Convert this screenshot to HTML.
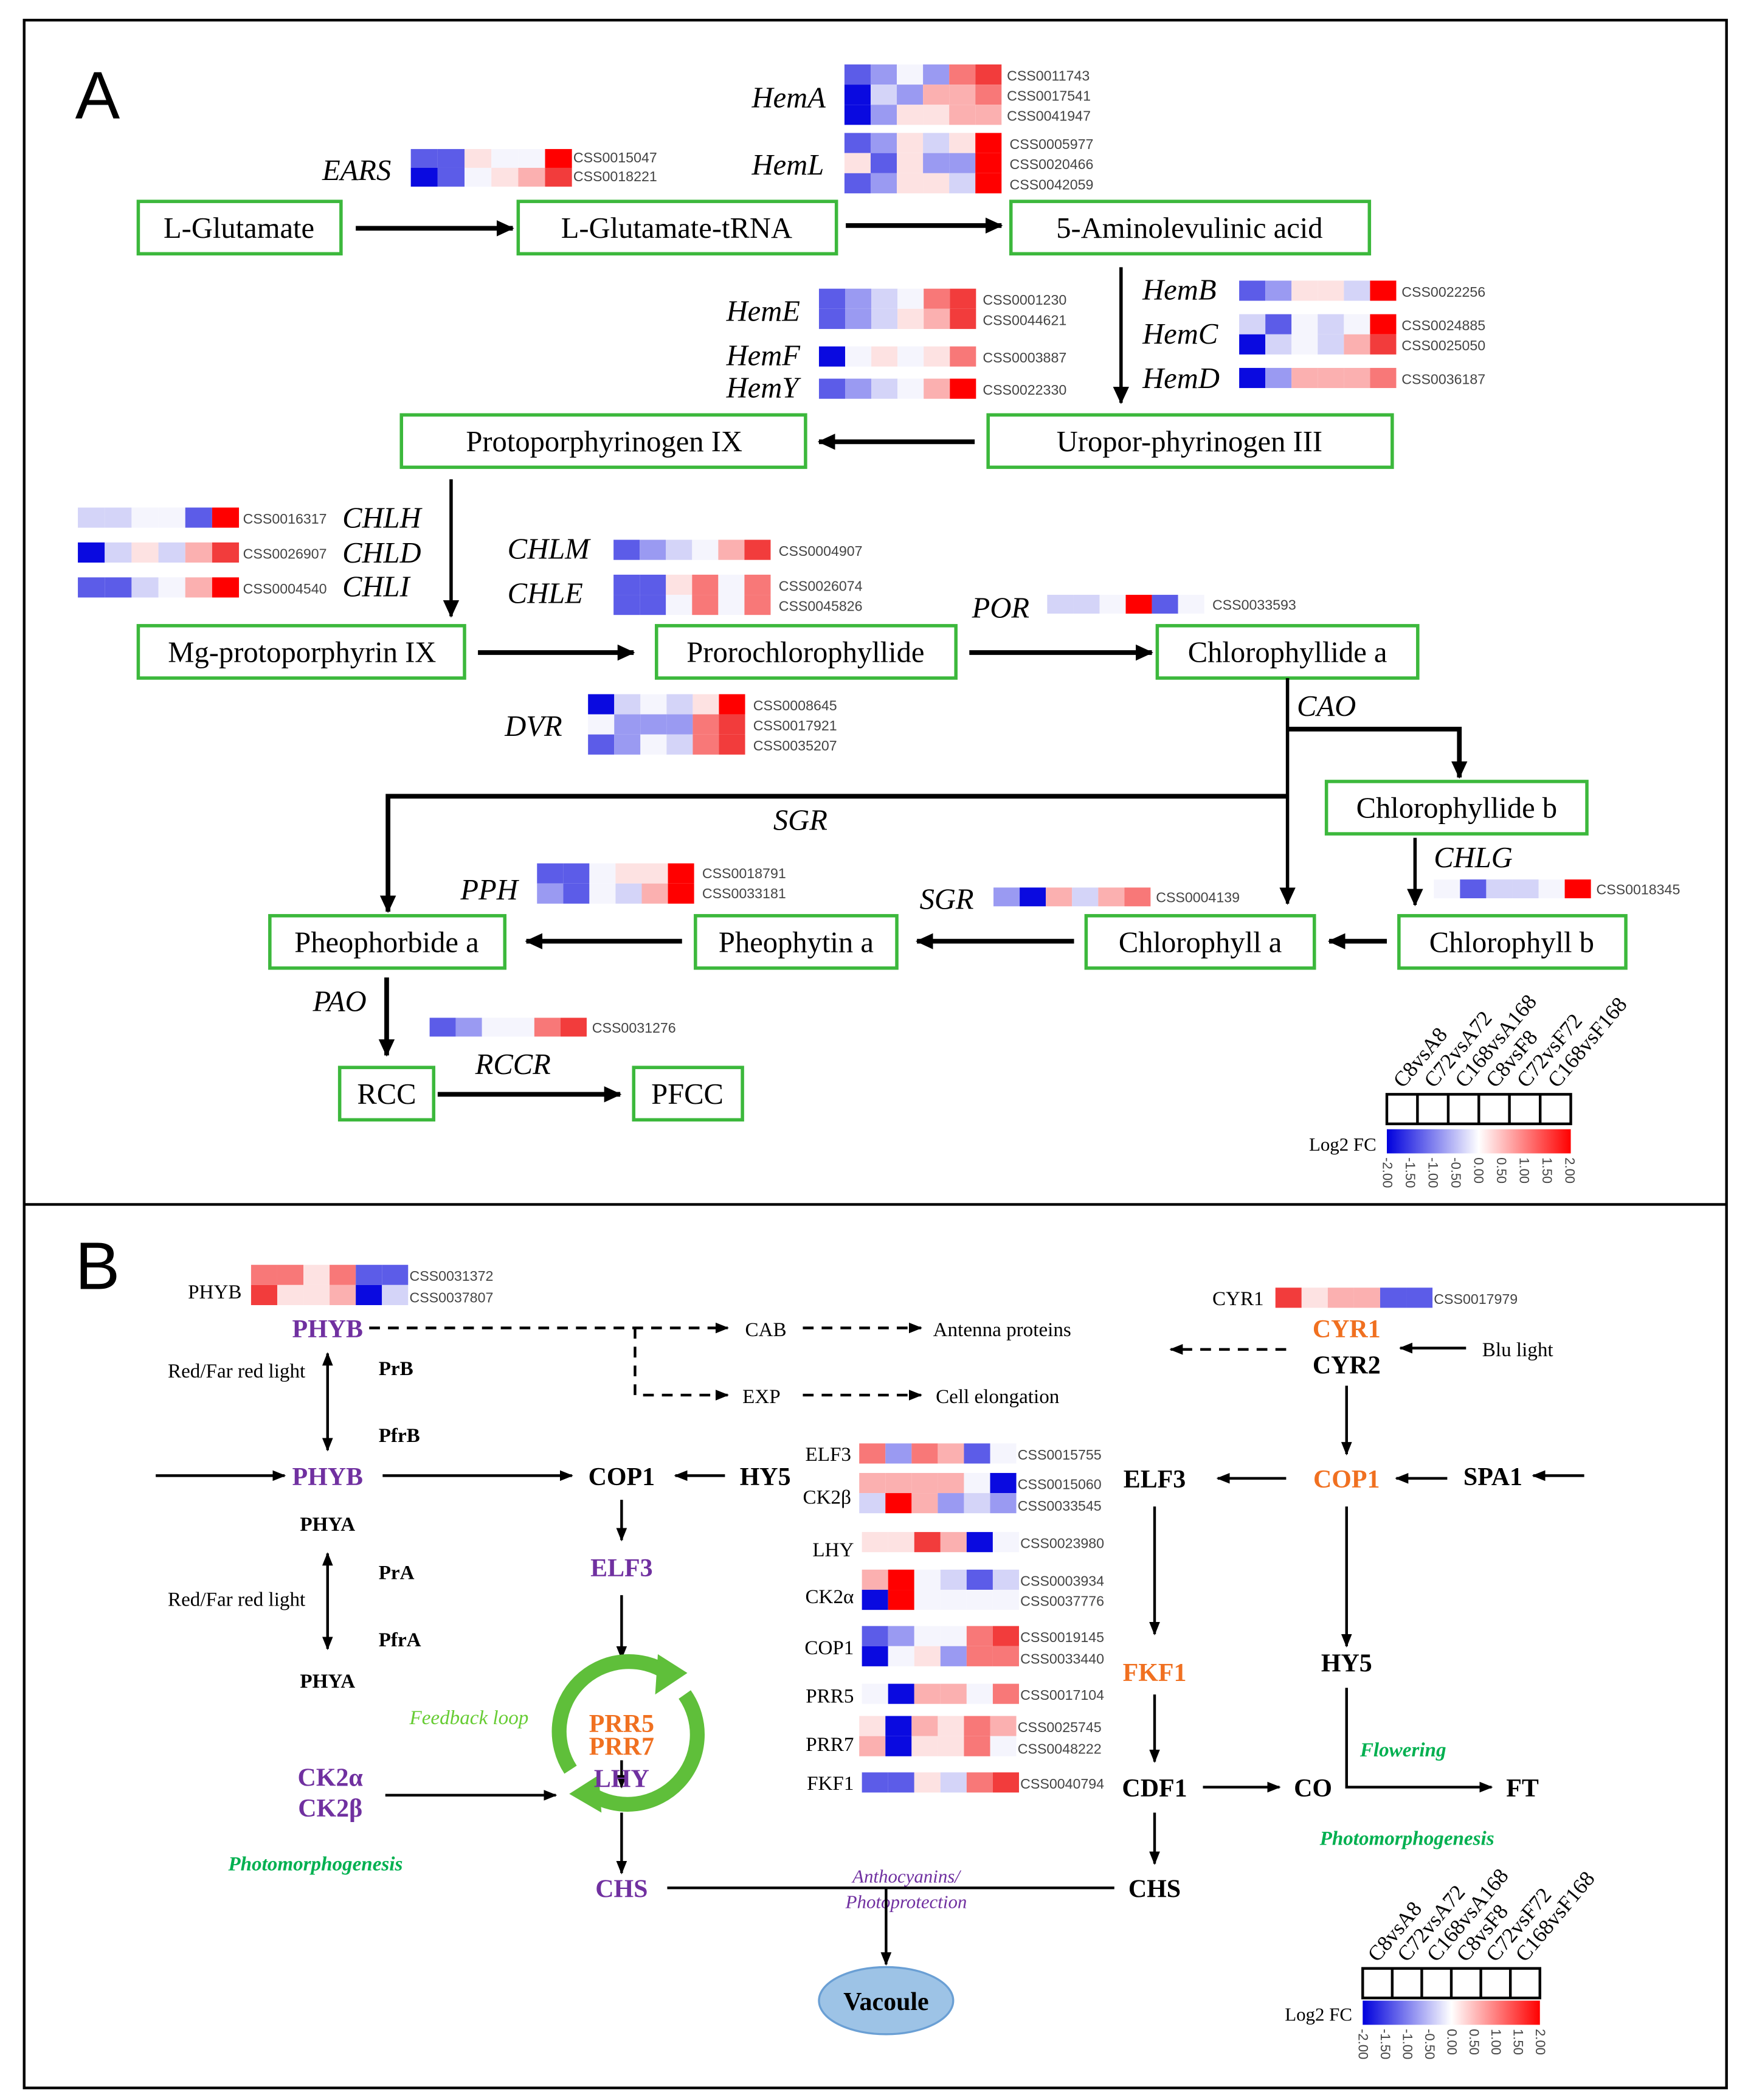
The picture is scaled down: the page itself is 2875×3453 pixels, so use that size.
<!DOCTYPE html>
<html><head><meta charset="utf-8"><style>
html,body{margin:0;padding:0;background:#fff}
svg{display:block}
.b3{fill:#0a0ae0}.b2{fill:#5c5ce8}.b1{fill:#9a9af2}.b0{fill:#d4d4f8}.w{fill:#f5f5fd}
.r0{fill:#fde2e2}.r1{fill:#fbb0b0}.r2{fill:#f87878}.r3{fill:#f23c3c}.r4{fill:#ff0000}
.n{font-family:"Liberation Serif",serif;font-size:22px;text-anchor:middle}
.g{font-family:"Liberation Serif",serif;font-size:22px;font-style:italic}
.id{font-family:"Liberation Sans",sans-serif;font-size:10.5px;fill:#444}
.bx{fill:#fff;stroke:#3cb83c;stroke-width:2.5}
.k{font-family:"Liberation Serif",serif;font-weight:bold;font-size:19px;text-anchor:middle}
.s{font-family:"Liberation Serif",serif;font-size:15px}
.p{fill:#7030a0}.o{fill:#f07020}
.gr{font-family:"Liberation Serif",serif;font-weight:bold;font-style:italic;font-size:15px;fill:#00b050}
.ln{stroke:#000;stroke-width:3.5;fill:none}
.tn{stroke:#000;stroke-width:2;fill:none}
.dl{stroke:#000;stroke-width:2;fill:none;stroke-dasharray:8,6}
</style></head><body>
<svg width="2875" height="3453" viewBox="0 0 1302 1564" preserveAspectRatio="none" xmlns="http://www.w3.org/2000/svg">
<defs>
<marker id="A" markerUnits="userSpaceOnUse" markerWidth="14" markerHeight="14" refX="12" refY="7" orient="auto"><path d="M0,1 L13,7 L0,13 z"/></marker>
<marker id="a" markerUnits="userSpaceOnUse" markerWidth="10" markerHeight="10" refX="9" refY="5" orient="auto"><path d="M0,1 L10,5 L0,9 z"/></marker>
<marker id="as" markerUnits="userSpaceOnUse" markerWidth="10" markerHeight="10" refX="1" refY="5" orient="auto"><path d="M10,1 L0,5 L10,9 z"/></marker>
<linearGradient id="lg"><stop offset="0" stop-color="#0000dd"/><stop offset="0.5" stop-color="#fff"/><stop offset="1" stop-color="#ff0000"/></linearGradient>
</defs>
<rect x="18" y="15" width="1268" height="1540" fill="none" stroke="#000" stroke-width="2"/>
<line x1="18" y1="897" x2="1286" y2="897" stroke="#000" stroke-width="2"/>
<text x="56" y="88" font-family="Liberation Sans,sans-serif" font-size="50">A</text>
<text x="56" y="960" font-family="Liberation Sans,sans-serif" font-size="50">B</text>

<!-- Panel A boxes -->
<rect class="bx" x="103" y="150" width="151" height="39"/><text class="n" x="178" y="177">L-Glutamate</text>
<rect class="bx" x="386" y="150" width="237" height="39"/><text class="n" x="504" y="177">L-Glutamate-tRNA</text>
<rect class="bx" x="753" y="150" width="267" height="39"/><text class="n" x="886" y="177">5-Aminolevulinic acid</text>
<rect class="bx" x="299" y="309" width="301" height="39"/><text class="n" x="450" y="336">Protoporphyrinogen IX</text>
<rect class="bx" x="736" y="309" width="301" height="39"/><text class="n" x="886" y="336">Uropor-phyrinogen III</text>
<rect class="bx" x="103" y="466" width="243" height="39"/><text class="n" x="225" y="493">Mg-protoporphyrin IX</text>
<rect class="bx" x="489" y="466" width="223" height="39"/><text class="n" x="600" y="493">Prorochlorophyllide</text>
<rect class="bx" x="862" y="466" width="194" height="39"/><text class="n" x="959" y="493">Chlorophyllide a</text>
<rect class="bx" x="988" y="582" width="194" height="39"/><text class="n" x="1085" y="609">Chlorophyllide b</text>
<rect class="bx" x="201" y="682" width="175" height="39"/><text class="n" x="288" y="709">Pheophorbide a</text>
<rect class="bx" x="518" y="682" width="150" height="39"/><text class="n" x="593" y="709">Pheophytin a</text>
<rect class="bx" x="809" y="682" width="170" height="39"/><text class="n" x="894" y="709">Chlorophyll a</text>
<rect class="bx" x="1042" y="682" width="169" height="39"/><text class="n" x="1126" y="709">Chlorophyll b</text>
<rect class="bx" x="253" y="795" width="70" height="39"/><text class="n" x="288" y="822">RCC</text>
<rect class="bx" x="472" y="795" width="81" height="39"/><text class="n" x="512" y="822">PFCC</text>

<!-- Panel A arrows -->
<g class="ln">
<line x1="265" y1="170" x2="382" y2="170" marker-end="url(#A)"/>
<line x1="630" y1="168" x2="746" y2="168" marker-end="url(#A)"/>
<line x1="835" y1="199" x2="835" y2="300" stroke-width="2.5" marker-end="url(#A)"/>
<line x1="726" y1="329" x2="610" y2="329" marker-end="url(#A)"/>
<line x1="336" y1="357" x2="336" y2="459" stroke-width="2.5" marker-end="url(#A)"/>
<line x1="356" y1="486" x2="472" y2="486" marker-end="url(#A)"/>
<line x1="722" y1="486" x2="858" y2="486" marker-end="url(#A)"/>
<line x1="959" y1="505" x2="959" y2="673" stroke-width="2.5" marker-end="url(#A)"/>
<polyline points="959,543 1087,543 1087,579" marker-end="url(#A)"/>
<polyline points="959,593 289,593 289,679" marker-end="url(#A)"/>
<line x1="1054" y1="624" x2="1054" y2="674" stroke-width="2.5" marker-end="url(#A)"/>
<line x1="1033" y1="701" x2="990" y2="701" marker-end="url(#A)"/>
<line x1="800" y1="701" x2="683" y2="701" marker-end="url(#A)"/>
<line x1="508" y1="701" x2="392" y2="701" marker-end="url(#A)"/>
<line x1="288" y1="728" x2="288" y2="786" marker-end="url(#A)"/>
<line x1="326" y1="815" x2="462" y2="815" marker-end="url(#A)"/>
</g>

<!-- Gene labels A -->
<text class="g" x="240" y="134">EARS</text>
<text class="g" x="560" y="80">HemA</text>
<text class="g" x="560" y="130">HemL</text>
<text class="g" x="541" y="239">HemE</text>
<text class="g" x="541" y="272">HemF</text>
<text class="g" x="541" y="296">HemY</text>
<text class="g" x="851" y="223">HemB</text>
<text class="g" x="851" y="256">HemC</text>
<text class="g" x="851" y="289">HemD</text>
<text class="g" x="255" y="393">CHLH</text>
<text class="g" x="255" y="419">CHLD</text>
<text class="g" x="255" y="444">CHLI</text>
<text class="g" x="378" y="416">CHLM</text>
<text class="g" x="378" y="449">CHLE</text>
<text class="g" x="724" y="460">POR</text>
<text class="g" x="376" y="548">DVR</text>
<text class="g" x="966" y="533">CAO</text>
<text class="g" x="576" y="618">SGR</text>
<text class="g" x="1068" y="646">CHLG</text>
<text class="g" x="343" y="670">PPH</text>
<text class="g" x="685" y="677">SGR</text>
<text class="g" x="233" y="753">PAO</text>
<text class="g" x="354" y="800">RCCR</text>

<!-- Heatmaps A -->
<g transform="translate(306,111)"><rect class="b2" x="0" width="20" height="14"/><rect class="b2" x="20" width="20" height="14"/><rect class="r0" x="40" width="20" height="14"/><rect class="w" x="60" width="20" height="14"/><rect class="w" x="80" width="20" height="14"/><rect class="r4" x="100" width="20" height="14"/>
<rect class="b3" x="0" y="14" width="20" height="14"/><rect class="b2" x="20" y="14" width="20" height="14"/><rect class="w" x="40" y="14" width="20" height="14"/><rect class="r0" x="60" y="14" width="20" height="14"/><rect class="r1" x="80" y="14" width="20" height="14"/><rect class="r3" x="100" y="14" width="20" height="14"/></g>
<text class="id" x="427" y="121">CSS0015047</text><text class="id" x="427" y="135">CSS0018221</text>

<g transform="translate(629,48)"><rect class="b2" x="0" width="19.5" height="15"/><rect class="b1" x="19.5" width="19.5" height="15"/><rect class="w" x="39" width="19.5" height="15"/><rect class="b1" x="58.5" width="19.5" height="15"/><rect class="r2" x="78" width="19.5" height="15"/><rect class="r3" x="97.5" width="19.5" height="15"/>
<rect class="b3" x="0" y="15" width="19.5" height="15"/><rect class="b0" x="19.5" y="15" width="19.5" height="15"/><rect class="b1" x="39" y="15" width="19.5" height="15"/><rect class="r1" x="58.5" y="15" width="19.5" height="15"/><rect class="r1" x="78" y="15" width="19.5" height="15"/><rect class="r2" x="97.5" y="15" width="19.5" height="15"/>
<rect class="b3" x="0" y="30" width="19.5" height="15"/><rect class="b1" x="19.5" y="30" width="19.5" height="15"/><rect class="r0" x="39" y="30" width="19.5" height="15"/><rect class="r0" x="58.5" y="30" width="19.5" height="15"/><rect class="r1" x="78" y="30" width="19.5" height="15"/><rect class="r1" x="97.5" y="30" width="19.5" height="15"/></g>
<text class="id" x="750" y="60">CSS0011743</text><text class="id" x="750" y="75">CSS0017541</text><text class="id" x="750" y="90">CSS0041947</text>

<g transform="translate(629,99)"><rect class="b2" x="0" width="19.5" height="15"/><rect class="b1" x="19.5" width="19.5" height="15"/><rect class="r0" x="39" width="19.5" height="15"/><rect class="b0" x="58.5" width="19.5" height="15"/><rect class="r0" x="78" width="19.5" height="15"/><rect class="r4" x="97.5" width="19.5" height="15"/>
<rect class="r0" x="0" y="15" width="19.5" height="15"/><rect class="b2" x="19.5" y="15" width="19.5" height="15"/><rect class="r0" x="39" y="15" width="19.5" height="15"/><rect class="b1" x="58.5" y="15" width="19.5" height="15"/><rect class="b1" x="78" y="15" width="19.5" height="15"/><rect class="r4" x="97.5" y="15" width="19.5" height="15"/>
<rect class="b2" x="0" y="30" width="19.5" height="15"/><rect class="b1" x="19.5" y="30" width="19.5" height="15"/><rect class="r0" x="39" y="30" width="19.5" height="15"/><rect class="r0" x="58.5" y="30" width="19.5" height="15"/><rect class="b0" x="78" y="30" width="19.5" height="15"/><rect class="r4" x="97.5" y="30" width="19.5" height="15"/></g>
<text class="id" x="752" y="111">CSS0005977</text><text class="id" x="752" y="126">CSS0020466</text><text class="id" x="752" y="141">CSS0042059</text>

<g transform="translate(610,215)"><rect class="b2" x="0" width="19.5" height="15"/><rect class="b1" x="19.5" width="19.5" height="15"/><rect class="b0" x="39" width="19.5" height="15"/><rect class="w" x="58.5" width="19.5" height="15"/><rect class="r2" x="78" width="19.5" height="15"/><rect class="r3" x="97.5" width="19.5" height="15"/>
<rect class="b2" x="0" y="15" width="19.5" height="15"/><rect class="b1" x="19.5" y="15" width="19.5" height="15"/><rect class="b0" x="39" y="15" width="19.5" height="15"/><rect class="r0" x="58.5" y="15" width="19.5" height="15"/><rect class="r1" x="78" y="15" width="19.5" height="15"/><rect class="r3" x="97.5" y="15" width="19.5" height="15"/></g>
<text class="id" x="732" y="227">CSS0001230</text><text class="id" x="732" y="242">CSS0044621</text>
<g transform="translate(610,258)"><rect class="b3" x="0" width="19.5" height="15"/><rect class="w" x="19.5" width="19.5" height="15"/><rect class="r0" x="39" width="19.5" height="15"/><rect class="w" x="58.5" width="19.5" height="15"/><rect class="r0" x="78" width="19.5" height="15"/><rect class="r2" x="97.5" width="19.5" height="15"/></g>
<text class="id" x="732" y="270">CSS0003887</text>
<g transform="translate(610,282)"><rect class="b2" x="0" width="19.5" height="15"/><rect class="b1" x="19.5" width="19.5" height="15"/><rect class="b0" x="39" width="19.5" height="15"/><rect class="w" x="58.5" width="19.5" height="15"/><rect class="r1" x="78" width="19.5" height="15"/><rect class="r4" x="97.5" width="19.5" height="15"/></g>
<text class="id" x="732" y="294">CSS0022330</text>

<g transform="translate(923,209)"><rect class="b2" x="0" width="19.5" height="15"/><rect class="b1" x="19.5" width="19.5" height="15"/><rect class="r0" x="39" width="19.5" height="15"/><rect class="r0" x="58.5" width="19.5" height="15"/><rect class="b0" x="78" width="19.5" height="15"/><rect class="r4" x="97.5" width="19.5" height="15"/></g>
<text class="id" x="1044" y="221">CSS0022256</text>
<g transform="translate(923,234)"><rect class="b0" x="0" width="19.5" height="15"/><rect class="b2" x="19.5" width="19.5" height="15"/><rect class="w" x="39" width="19.5" height="15"/><rect class="b0" x="58.5" width="19.5" height="15"/><rect class="w" x="78" width="19.5" height="15"/><rect class="r4" x="97.5" width="19.5" height="15"/>
<rect class="b3" x="0" y="15" width="19.5" height="15"/><rect class="b0" x="19.5" y="15" width="19.5" height="15"/><rect class="w" x="39" y="15" width="19.5" height="15"/><rect class="b0" x="58.5" y="15" width="19.5" height="15"/><rect class="r1" x="78" y="15" width="19.5" height="15"/><rect class="r3" x="97.5" y="15" width="19.5" height="15"/></g>
<text class="id" x="1044" y="246">CSS0024885</text><text class="id" x="1044" y="261">CSS0025050</text>
<g transform="translate(923,274)"><rect class="b3" x="0" width="19.5" height="15"/><rect class="b1" x="19.5" width="19.5" height="15"/><rect class="r1" x="39" width="19.5" height="15"/><rect class="r1" x="58.5" width="19.5" height="15"/><rect class="r1" x="78" width="19.5" height="15"/><rect class="r2" x="97.5" width="19.5" height="15"/></g>
<text class="id" x="1044" y="286">CSS0036187</text>

<g transform="translate(58,378)"><rect class="b0" x="0" width="20" height="15"/><rect class="b0" x="20" width="20" height="15"/><rect class="w" x="40" width="20" height="15"/><rect class="w" x="60" width="20" height="15"/><rect class="b2" x="80" width="20" height="15"/><rect class="r4" x="100" width="20" height="15"/></g>
<text class="id" x="181" y="390">CSS0016317</text>
<g transform="translate(58,404)"><rect class="b3" x="0" width="20" height="15"/><rect class="b0" x="20" width="20" height="15"/><rect class="r0" x="40" width="20" height="15"/><rect class="b0" x="60" width="20" height="15"/><rect class="r1" x="80" width="20" height="15"/><rect class="r3" x="100" width="20" height="15"/></g>
<text class="id" x="181" y="416">CSS0026907</text>
<g transform="translate(58,430)"><rect class="b2" x="0" width="20" height="15"/><rect class="b2" x="20" width="20" height="15"/><rect class="b0" x="40" width="20" height="15"/><rect class="w" x="60" width="20" height="15"/><rect class="r1" x="80" width="20" height="15"/><rect class="r4" x="100" width="20" height="15"/></g>
<text class="id" x="181" y="442">CSS0004540</text>

<g transform="translate(457,402)"><rect class="b2" x="0" width="19.5" height="15"/><rect class="b1" x="19.5" width="19.5" height="15"/><rect class="b0" x="39" width="19.5" height="15"/><rect class="w" x="58.5" width="19.5" height="15"/><rect class="r1" x="78" width="19.5" height="15"/><rect class="r3" x="97.5" width="19.5" height="15"/></g>
<text class="id" x="580" y="414">CSS0004907</text>
<g transform="translate(457,428)"><rect class="b2" x="0" width="19.5" height="15"/><rect class="b2" x="19.5" width="19.5" height="15"/><rect class="r0" x="39" width="19.5" height="15"/><rect class="r2" x="58.5" width="19.5" height="15"/><rect class="w" x="78" width="19.5" height="15"/><rect class="r2" x="97.5" width="19.5" height="15"/>
<rect class="b2" x="0" y="15" width="19.5" height="15"/><rect class="b2" x="19.5" y="15" width="19.5" height="15"/><rect class="w" x="39" y="15" width="19.5" height="15"/><rect class="r2" x="58.5" y="15" width="19.5" height="15"/><rect class="w" x="78" y="15" width="19.5" height="15"/><rect class="r2" x="97.5" y="15" width="19.5" height="15"/></g>
<text class="id" x="580" y="440">CSS0026074</text><text class="id" x="580" y="455">CSS0045826</text>
<g transform="translate(780,443)"><rect class="b0" x="0" width="19.5" height="14"/><rect class="b0" x="19.5" width="19.5" height="14"/><rect class="w" x="39" width="19.5" height="14"/><rect class="r4" x="58.5" width="19.5" height="14"/><rect class="b2" x="78" width="19.5" height="14"/><rect class="w" x="97.5" width="19.5" height="14"/></g>
<text class="id" x="903" y="454">CSS0033593</text>

<g transform="translate(438,517)"><rect class="b3" x="0" width="19.5" height="15"/><rect class="b0" x="19.5" width="19.5" height="15"/><rect class="w" x="39" width="19.5" height="15"/><rect class="b0" x="58.5" width="19.5" height="15"/><rect class="r0" x="78" width="19.5" height="15"/><rect class="r4" x="97.5" width="19.5" height="15"/>
<rect class="w" x="0" y="15" width="19.5" height="15"/><rect class="b1" x="19.5" y="15" width="19.5" height="15"/><rect class="b1" x="39" y="15" width="19.5" height="15"/><rect class="b1" x="58.5" y="15" width="19.5" height="15"/><rect class="r2" x="78" y="15" width="19.5" height="15"/><rect class="r3" x="97.5" y="15" width="19.5" height="15"/>
<rect class="b2" x="0" y="30" width="19.5" height="15"/><rect class="b1" x="19.5" y="30" width="19.5" height="15"/><rect class="w" x="39" y="30" width="19.5" height="15"/><rect class="b0" x="58.5" y="30" width="19.5" height="15"/><rect class="r2" x="78" y="30" width="19.5" height="15"/><rect class="r3" x="97.5" y="30" width="19.5" height="15"/></g>
<text class="id" x="561" y="529">CSS0008645</text><text class="id" x="561" y="544">CSS0017921</text><text class="id" x="561" y="559">CSS0035207</text>

<g transform="translate(400,643)"><rect class="b2" x="0" width="19.5" height="15"/><rect class="b2" x="19.5" width="19.5" height="15"/><rect class="w" x="39" width="19.5" height="15"/><rect class="r0" x="58.5" width="19.5" height="15"/><rect class="r0" x="78" width="19.5" height="15"/><rect class="r4" x="97.5" width="19.5" height="15"/>
<rect class="b1" x="0" y="15" width="19.5" height="15"/><rect class="b2" x="19.5" y="15" width="19.5" height="15"/><rect class="w" x="39" y="15" width="19.5" height="15"/><rect class="b0" x="58.5" y="15" width="19.5" height="15"/><rect class="r1" x="78" y="15" width="19.5" height="15"/><rect class="r4" x="97.5" y="15" width="19.5" height="15"/></g>
<text class="id" x="523" y="654">CSS0018791</text><text class="id" x="523" y="669">CSS0033181</text>
<g transform="translate(740,661)"><rect class="b1" x="0" width="19.5" height="14"/><rect class="b3" x="19.5" width="19.5" height="14"/><rect class="r1" x="39" width="19.5" height="14"/><rect class="b0" x="58.5" width="19.5" height="14"/><rect class="r1" x="78" width="19.5" height="14"/><rect class="r2" x="97.5" width="19.5" height="14"/></g>
<text class="id" x="861" y="672">CSS0004139</text>
<g transform="translate(1068,655)"><rect class="w" x="0" width="19.5" height="14"/><rect class="b2" x="19.5" width="19.5" height="14"/><rect class="b0" x="39" width="19.5" height="14"/><rect class="b0" x="58.5" width="19.5" height="14"/><rect class="w" x="78" width="19.5" height="14"/><rect class="r4" x="97.5" width="19.5" height="14"/></g>
<text class="id" x="1189" y="666">CSS0018345</text>
<g transform="translate(320,758)"><rect class="b2" x="0" width="19.5" height="14"/><rect class="b1" x="19.5" width="19.5" height="14"/><rect class="w" x="39" width="19.5" height="14"/><rect class="w" x="58.5" width="19.5" height="14"/><rect class="r2" x="78" width="19.5" height="14"/><rect class="r3" x="97.5" width="19.5" height="14"/></g>
<text class="id" x="441" y="769">CSS0031276</text>

<!-- Legend A -->
<g transform="translate(1033,815)">
<g font-family="Liberation Serif,serif" font-size="16">
<text transform="translate(12,-4) rotate(-50)">C8vsA8</text>
<text transform="translate(35,-4) rotate(-50)">C72vsA72</text>
<text transform="translate(58,-4) rotate(-50)">C168vsA168</text>
<text transform="translate(81,-4) rotate(-50)">C8vsF8</text>
<text transform="translate(104,-4) rotate(-50)">C72vsF72</text>
<text transform="translate(127,-4) rotate(-50)">C168vsF168</text>
</g>
<g fill="none" stroke="#000" stroke-width="2"><rect x="0" y="0" width="137" height="22"/><line x1="22.8" y1="0" x2="22.8" y2="22"/><line x1="45.7" y1="0" x2="45.7" y2="22"/><line x1="68.5" y1="0" x2="68.5" y2="22"/><line x1="91.3" y1="0" x2="91.3" y2="22"/><line x1="114.2" y1="0" x2="114.2" y2="22"/></g>
<rect x="0" y="26" width="137" height="18" fill="url(#lg)"/>
<text x="-58" y="42" font-family="Liberation Serif,serif" font-size="14">Log2 FC</text>
<g font-family="Liberation Sans,sans-serif" font-size="10" fill="#444">
<text transform="translate(-3,47) rotate(90)">-2.00</text><text transform="translate(14,47) rotate(90)">-1.50</text><text transform="translate(31,47) rotate(90)">-1.00</text><text transform="translate(48,47) rotate(90)">-0.50</text><text transform="translate(65,47) rotate(90)">0.00</text><text transform="translate(82,47) rotate(90)">0.50</text><text transform="translate(99,47) rotate(90)">1.00</text><text transform="translate(116,47) rotate(90)">1.50</text><text transform="translate(133,47) rotate(90)">2.00</text></g>
</g>

<!-- Panel B -->
<text class="s" x="140" y="967">PHYB</text>
<g transform="translate(187,942)"><rect class="r2" x="0" width="19.5" height="15"/><rect class="r2" x="19.5" width="19.5" height="15"/><rect class="r0" x="39" width="19.5" height="15"/><rect class="r2" x="58.5" width="19.5" height="15"/><rect class="b2" x="78" width="19.5" height="15"/><rect class="b2" x="97.5" width="19.5" height="15"/>
<rect class="r3" x="0" y="15" width="19.5" height="15"/><rect class="r0" x="19.5" y="15" width="19.5" height="15"/><rect class="r0" x="39" y="15" width="19.5" height="15"/><rect class="r1" x="58.5" y="15" width="19.5" height="15"/><rect class="b3" x="78" y="15" width="19.5" height="15"/><rect class="b0" x="97.5" y="15" width="19.5" height="15"/></g>
<text class="id" x="305" y="954">CSS0031372</text><text class="id" x="305" y="970">CSS0037807</text>

<text class="k p" x="244" y="996">PHYB</text>
<line class="dl" x1="275" y1="989" x2="542" y2="989" marker-end="url(#a)"/>
<polyline class="dl" points="473,989 473,1039 542,1039" marker-end="url(#a)"/>
<text class="s" x="555" y="995">CAB</text>
<line class="dl" x1="598" y1="989" x2="686" y2="989" marker-end="url(#a)"/>
<text class="s" x="695" y="995">Antenna proteins</text>
<text class="s" x="553" y="1045">EXP</text>
<line class="dl" x1="598" y1="1039" x2="686" y2="1039" marker-end="url(#a)"/>
<text class="s" x="697" y="1045">Cell elongation</text>

<text class="s" x="125" y="1026">Red/Far red light</text>
<line class="tn" x1="244" y1="1008" x2="244" y2="1080" marker-start="url(#as)" marker-end="url(#a)"/>
<text class="s" x="282" y="1024" font-weight="bold">PrB</text>
<text class="s" x="282" y="1074" font-weight="bold">PfrB</text>
<line class="tn" x1="116" y1="1099" x2="212" y2="1099" marker-end="url(#a)"/>
<text class="k p" x="244" y="1106">PHYB</text>
<line class="tn" x1="285" y1="1099" x2="426" y2="1099" marker-end="url(#a)"/>
<text class="k" x="463" y="1106">COP1</text>
<line class="tn" x1="540" y1="1099" x2="503" y2="1099" marker-end="url(#a)"/>
<text class="k" x="570" y="1106">HY5</text>
<text class="s" x="244" y="1140" font-weight="bold" text-anchor="middle">PHYA</text>
<line class="tn" x1="244" y1="1157" x2="244" y2="1228" marker-start="url(#as)" marker-end="url(#a)"/>
<text class="s" x="282" y="1176" font-weight="bold">PrA</text>
<text class="s" x="282" y="1226" font-weight="bold">PfrA</text>
<text class="s" x="125" y="1196">Red/Far red light</text>
<text class="s" x="244" y="1257" font-weight="bold" text-anchor="middle">PHYA</text>
<line class="tn" x1="463" y1="1117" x2="463" y2="1147" marker-end="url(#a)"/>
<text class="k p" x="463" y="1174">ELF3</text>
<line class="tn" x1="463" y1="1188" x2="463" y2="1235" marker-end="url(#a)"/>
<!-- feedback loop -->
<path d="M425,1318 A52,52 0 0 1 497,1246" fill="none" stroke="#5fbf3a" stroke-width="11"/>
<path d="M490,1232 L512,1246 L488,1262 z" fill="#5fbf3a"/>
<path d="M510,1262 A52,52 0 0 1 440,1336" fill="none" stroke="#5fbf3a" stroke-width="11"/>
<path d="M446,1322 L424,1336 L448,1350 z" fill="#5fbf3a"/>
<text class="k o" x="463" y="1290">PRR5</text>
<text class="k o" x="463" y="1307">PRR7</text>
<line class="tn" x1="463" y1="1311" x2="463" y2="1331" marker-end="url(#a)"/>
<text class="k p" x="463" y="1331">LHY</text>
<text x="305" y="1284" font-family="Liberation Serif,serif" font-style="italic" font-size="15" fill="#66cc33">Feedback loop</text>
<text class="k p" x="246" y="1330">CK2α</text>
<text class="k p" x="246" y="1353">CK2β</text>
<line class="tn" x1="287" y1="1337" x2="414" y2="1337" marker-end="url(#a)"/>
<line class="tn" x1="463" y1="1350" x2="463" y2="1395" marker-end="url(#a)"/>
<text class="k p" x="463" y="1413">CHS</text>
<text class="gr" x="170" y="1393">Photomorphogenesis</text>
<line class="tn" x1="497" y1="1406" x2="830" y2="1406"/>
<text x="675" y="1402" font-family="Liberation Serif,serif" font-style="italic" font-size="14" fill="#7030a0" text-anchor="middle">Anthocyanins/</text>
<text x="675" y="1421" font-family="Liberation Serif,serif" font-style="italic" font-size="14" fill="#7030a0" text-anchor="middle">Photoprotection</text>
<line class="tn" x1="660" y1="1406" x2="660" y2="1463" marker-end="url(#a)"/>
<ellipse cx="660" cy="1490" rx="50" ry="25" fill="#9dc3e6" stroke="#6a9fd4" stroke-width="1.5"/>
<text class="k" x="660" y="1497">Vacoule</text>
<text class="k" x="860" y="1413">CHS</text>

<!-- Middle heatmaps B -->
<g class="s" text-anchor="end" font-size="14">
<text x="634" y="1088">ELF3</text><text x="634" y="1120">CK2β</text><text x="636" y="1159">LHY</text><text x="636" y="1194">CK2α</text><text x="636" y="1232">COP1</text><text x="636" y="1268">PRR5</text><text x="636" y="1304">PRR7</text><text x="636" y="1333">FKF1</text></g>
<g transform="translate(640,1075)"><rect class="r2" x="0" width="19.5" height="15"/><rect class="b1" x="19.5" width="19.5" height="15"/><rect class="r2" x="39" width="19.5" height="15"/><rect class="r1" x="58.5" width="19.5" height="15"/><rect class="b2" x="78" width="19.5" height="15"/><rect class="w" x="97.5" width="19.5" height="15"/></g>
<g transform="translate(640,1097)"><rect class="r1" x="0" width="19.5" height="15"/><rect class="r1" x="19.5" width="19.5" height="15"/><rect class="r1" x="39" width="19.5" height="15"/><rect class="r1" x="58.5" width="19.5" height="15"/><rect class="w" x="78" width="19.5" height="15"/><rect class="b3" x="97.5" width="19.5" height="15"/>
<rect class="b0" x="0" y="15" width="19.5" height="15"/><rect class="r4" x="19.5" y="15" width="19.5" height="15"/><rect class="r1" x="39" y="15" width="19.5" height="15"/><rect class="b1" x="58.5" y="15" width="19.5" height="15"/><rect class="b0" x="78" y="15" width="19.5" height="15"/><rect class="b1" x="97.5" y="15" width="19.5" height="15"/></g>
<g transform="translate(642,1141)"><rect class="r0" x="0" width="19.5" height="15"/><rect class="r0" x="19.5" width="19.5" height="15"/><rect class="r3" x="39" width="19.5" height="15"/><rect class="r1" x="58.5" width="19.5" height="15"/><rect class="b3" x="78" width="19.5" height="15"/><rect class="w" x="97.5" width="19.5" height="15"/></g>
<g transform="translate(642,1169)"><rect class="r1" x="0" width="19.5" height="15"/><rect class="r4" x="19.5" width="19.5" height="15"/><rect class="w" x="39" width="19.5" height="15"/><rect class="b0" x="58.5" width="19.5" height="15"/><rect class="b2" x="78" width="19.5" height="15"/><rect class="b0" x="97.5" width="19.5" height="15"/>
<rect class="b3" x="0" y="15" width="19.5" height="15"/><rect class="r4" x="19.5" y="15" width="19.5" height="15"/><rect class="w" x="39" y="15" width="19.5" height="15"/><rect class="w" x="58.5" y="15" width="19.5" height="15"/><rect class="w" x="78" y="15" width="19.5" height="15"/><rect class="w" x="97.5" y="15" width="19.5" height="15"/></g>
<g transform="translate(642,1211)"><rect class="b2" x="0" width="19.5" height="15"/><rect class="b1" x="19.5" width="19.5" height="15"/><rect class="w" x="39" width="19.5" height="15"/><rect class="w" x="58.5" width="19.5" height="15"/><rect class="r2" x="78" width="19.5" height="15"/><rect class="r3" x="97.5" width="19.5" height="15"/>
<rect class="b3" x="0" y="15" width="19.5" height="15"/><rect class="w" x="19.5" y="15" width="19.5" height="15"/><rect class="r0" x="39" y="15" width="19.5" height="15"/><rect class="b1" x="58.5" y="15" width="19.5" height="15"/><rect class="r2" x="78" y="15" width="19.5" height="15"/><rect class="r2" x="97.5" y="15" width="19.5" height="15"/></g>
<g transform="translate(642,1254)"><rect class="w" x="0" width="19.5" height="15"/><rect class="b3" x="19.5" width="19.5" height="15"/><rect class="r1" x="39" width="19.5" height="15"/><rect class="r1" x="58.5" width="19.5" height="15"/><rect class="w" x="78" width="19.5" height="15"/><rect class="r2" x="97.5" width="19.5" height="15"/></g>
<g transform="translate(640,1278)"><rect class="r0" x="0" width="19.5" height="15"/><rect class="b3" x="19.5" width="19.5" height="15"/><rect class="r1" x="39" width="19.5" height="15"/><rect class="r0" x="58.5" width="19.5" height="15"/><rect class="r2" x="78" width="19.5" height="15"/><rect class="r1" x="97.5" width="19.5" height="15"/>
<rect class="r1" x="0" y="15" width="19.5" height="15"/><rect class="b3" x="19.5" y="15" width="19.5" height="15"/><rect class="r0" x="39" y="15" width="19.5" height="15"/><rect class="r0" x="58.5" y="15" width="19.5" height="15"/><rect class="r2" x="78" y="15" width="19.5" height="15"/><rect class="w" x="97.5" y="15" width="19.5" height="15"/></g>
<g transform="translate(642,1320)"><rect class="b2" x="0" width="19.5" height="15"/><rect class="b2" x="19.5" width="19.5" height="15"/><rect class="r0" x="39" width="19.5" height="15"/><rect class="b0" x="58.5" width="19.5" height="15"/><rect class="r2" x="78" width="19.5" height="15"/><rect class="r3" x="97.5" width="19.5" height="15"/></g>
<g class="id">
<text x="758" y="1087">CSS0015755</text><text x="758" y="1109">CSS0015060</text><text x="758" y="1125">CSS0033545</text><text x="760" y="1153">CSS0023980</text><text x="760" y="1181">CSS0003934</text><text x="760" y="1196">CSS0037776</text><text x="760" y="1223">CSS0019145</text><text x="760" y="1239">CSS0033440</text><text x="760" y="1266">CSS0017104</text><text x="758" y="1290">CSS0025745</text><text x="758" y="1306">CSS0048222</text><text x="760" y="1332">CSS0040794</text></g>

<!-- Right side B -->
<text class="s" x="903" y="972" font-size="14">CYR1</text>
<g transform="translate(950,959)"><rect class="r3" x="0" width="19.5" height="15"/><rect class="r0" x="19.5" width="19.5" height="15"/><rect class="r1" x="39" width="19.5" height="15"/><rect class="r1" x="58.5" width="19.5" height="15"/><rect class="b2" x="78" width="19.5" height="15"/><rect class="b2" x="97.5" width="19.5" height="15"/></g>
<text class="id" x="1068" y="971">CSS0017979</text>
<text class="k o" x="1003" y="996">CYR1</text>
<text class="k" x="1003" y="1023">CYR2</text>
<line class="dl" x1="958" y1="1005" x2="872" y2="1005" marker-end="url(#a)"/>
<line class="tn" x1="1092" y1="1004" x2="1043" y2="1004" marker-end="url(#a)"/>
<text class="s" x="1104" y="1010">Blu light</text>
<line class="tn" x1="1003" y1="1032" x2="1003" y2="1083" marker-end="url(#a)"/>
<text class="k o" x="1003" y="1108">COP1</text>
<text class="k" x="860" y="1108">ELF3</text>
<line class="tn" x1="958" y1="1101" x2="907" y2="1101" marker-end="url(#a)"/>
<text class="k" x="1112" y="1106">SPA1</text>
<line class="tn" x1="1078" y1="1101" x2="1040" y2="1101" marker-end="url(#a)"/>
<line class="tn" x1="1180" y1="1099" x2="1142" y2="1099" marker-end="url(#a)"/>
<line class="tn" x1="860" y1="1122" x2="860" y2="1217" marker-end="url(#a)"/>
<text class="k o" x="860" y="1252">FKF1</text>
<line class="tn" x1="860" y1="1262" x2="860" y2="1312" marker-end="url(#a)"/>
<text class="k" x="860" y="1338">CDF1</text>
<line class="tn" x1="896" y1="1331" x2="953" y2="1331" marker-end="url(#a)"/>
<text class="k" x="978" y="1338">CO</text>
<line class="tn" x1="1003" y1="1122" x2="1003" y2="1226" marker-end="url(#a)"/>
<text class="k" x="1003" y="1245">HY5</text>
<polyline class="tn" points="1003,1257 1003,1331 1111,1331" marker-end="url(#a)"/>
<text class="k" x="1134" y="1338">FT</text>
<text class="gr" x="1013" y="1308">Flowering</text>
<text class="gr" x="983" y="1374">Photomorphogenesis</text>
<line class="tn" x1="860" y1="1350" x2="860" y2="1388" marker-end="url(#a)"/>

<!-- Legend B -->
<g transform="translate(1015,1466)">
<g font-family="Liberation Serif,serif" font-size="16">
<text transform="translate(11,-4) rotate(-50)">C8vsA8</text>
<text transform="translate(33,-4) rotate(-50)">C72vsA72</text>
<text transform="translate(55,-4) rotate(-50)">C168vsA168</text>
<text transform="translate(77,-4) rotate(-50)">C8vsF8</text>
<text transform="translate(99,-4) rotate(-50)">C72vsF72</text>
<text transform="translate(121,-4) rotate(-50)">C168vsF168</text>
</g>
<g fill="none" stroke="#000" stroke-width="2"><rect x="0" y="0" width="132" height="22"/><line x1="22" y1="0" x2="22" y2="22"/><line x1="44" y1="0" x2="44" y2="22"/><line x1="66" y1="0" x2="66" y2="22"/><line x1="88" y1="0" x2="88" y2="22"/><line x1="110" y1="0" x2="110" y2="22"/></g>
<rect x="0" y="24" width="132" height="18" fill="url(#lg)"/>
<text x="-58" y="39" font-family="Liberation Serif,serif" font-size="14">Log2 FC</text>
<g font-family="Liberation Sans,sans-serif" font-size="10" fill="#444">
<text transform="translate(-3,45) rotate(90)">-2.00</text><text transform="translate(13.5,45) rotate(90)">-1.50</text><text transform="translate(30,45) rotate(90)">-1.00</text><text transform="translate(46.5,45) rotate(90)">-0.50</text><text transform="translate(63,45) rotate(90)">0.00</text><text transform="translate(79.5,45) rotate(90)">0.50</text><text transform="translate(96,45) rotate(90)">1.00</text><text transform="translate(112.5,45) rotate(90)">1.50</text><text transform="translate(129,45) rotate(90)">2.00</text></g>
</g>
</svg>
</body></html>
